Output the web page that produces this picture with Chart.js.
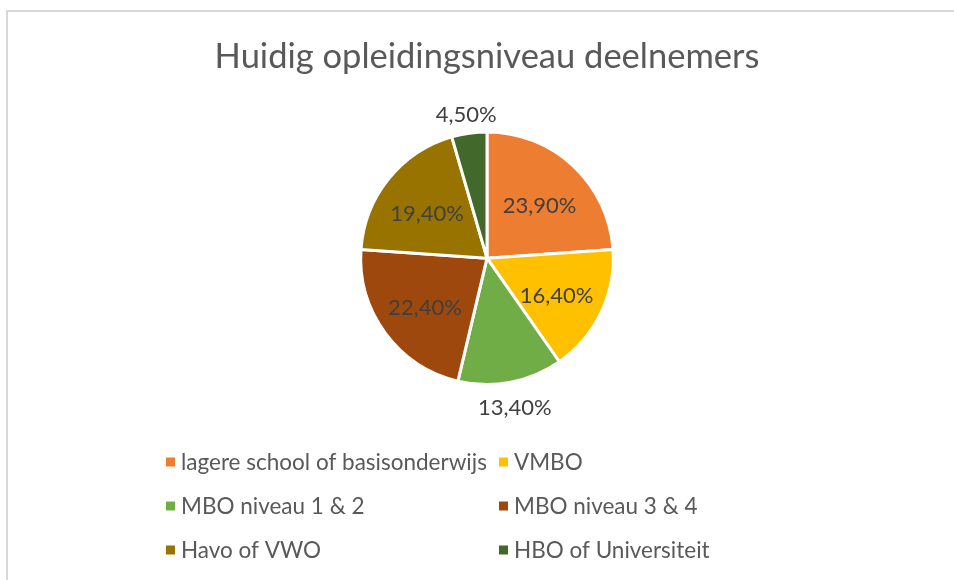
<!DOCTYPE html>
<html>
<head>
<meta charset="utf-8">
<script src="https://cdn.jsdelivr.net/npm/chart.js@4"></script>
<style>
  html, body { margin: 0; padding: 0; background: #ffffff; }
  #wrap { position: relative; width: 954px; height: 580px; overflow: hidden; }
  #frame { position: absolute; left: 6px; top: 10px; width: 1000px; height: 700px;
           border-left: 2px solid #d9d9d9; border-top: 2px solid #d9d9d9; }
  canvas { position: absolute; left: 0; top: 0; }
</style>
</head>
<body>
<div id="wrap">
  <div id="frame"></div>
  <canvas id="c" width="954" height="580"></canvas>
</div>
<script>
const chartTitle = "Huidig opleidingsniveau deelnemers";
const categories = [
  "lagere school of basisonderwijs",
  "VMBO",
  "MBO niveau 1 & 2",
  "MBO niveau 3 & 4",
  "Havo of VWO",
  "HBO of Universiteit"
];
const percentages = [23.9, 16.4, 13.4, 22.4, 19.4, 4.5];
const sliceColors = ["#ED7D31", "#FFC000", "#70AD47", "#9E480E", "#997300", "#43682B"];

const FONT = "Lato, 'Open Sans', sans-serif";

function fmt(v) {
  return v.toFixed(2).replace('.', ',') + '%';
}

const labelPlugin = {
  id: 'sliceLabels',
  afterDatasetsDraw(chart) {
    const ctx = chart.ctx;
    const meta = chart.getDatasetMeta(0);
    ctx.save();
    ctx.font = "22px " + FONT;
    ctx.fillStyle = "#404040";
    ctx.textAlign = "center";
    ctx.textBaseline = "middle";
    meta.data.forEach((arc, i) => {
      const p = arc.getProps(['x', 'y', 'startAngle', 'endAngle', 'outerRadius'], true);
      const mid = (p.startAngle + p.endAngle) / 2;
      const v = percentages[i];
      let d;
      if (v < 15) d = p.outerRadius + 22;
      else d = p.outerRadius * 0.61;
      const x = p.x + Math.cos(mid) * d;
      const y = p.y + Math.sin(mid) * d + 4;
      ctx.fillText(fmt(v), x, y);
    });
    ctx.restore();
  }
};

const legendPlugin = {
  id: 'gridLegend',
  afterDraw(chart) {
    const ctx = chart.ctx;
    ctx.save();
    ctx.font = "22.5px " + FONT;
    ctx.textBaseline = "middle";
    ctx.textAlign = "left";
    const colX = [166, 499];
    const rowY = [462, 506, 550];
    categories.forEach((name, i) => {
      const cx = colX[i % 2];
      const cy = rowY[Math.floor(i / 2)];
      ctx.fillStyle = sliceColors[i];
      ctx.fillRect(cx, cy - 4.5, 9, 9);
      ctx.fillStyle = "#595959";
      ctx.fillText(name, cx + 15, cy + 1);
    });
    ctx.restore();
  }
};

new Chart(document.getElementById('c'), {
  type: 'pie',
  data: {
    labels: categories,
    datasets: [{
      data: percentages,
      backgroundColor: sliceColors,
      borderColor: "#ffffff",
      borderWidth: 3,
      hoverOffset: 0
    }]
  },
  options: {
    responsive: false,
    animation: false,
    events: [],
    layout: { padding: { left: 20, right: 0, top: 0, bottom: 194 } },
    plugins: {
      legend: { display: false },
      tooltip: { enabled: false },
      title: {
        display: true,
        text: chartTitle,
        color: "#595959",
        font: { family: FONT, size: 34.5, weight: 'normal', lineHeight: 1.2 },
        padding: { top: 36, bottom: 53 }
      }
    }
  },
  plugins: [labelPlugin, legendPlugin]
});
</script>
</body>
</html>
